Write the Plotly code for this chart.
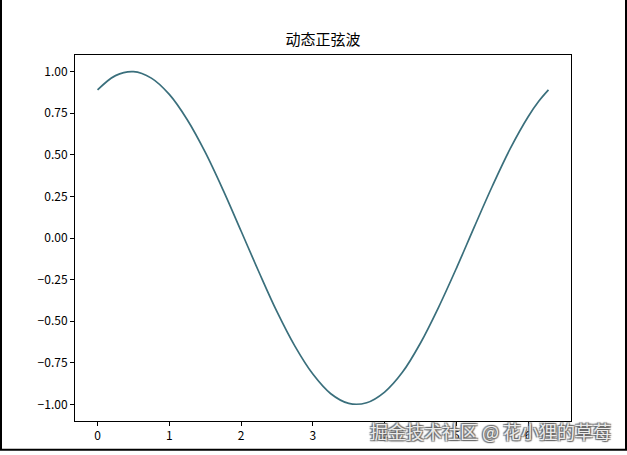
import plotly.graph_objects as go

# values
x_vals = [0.0, 0.25, 0.5, 0.75, 1.0, 1.25, 1.5, 1.75, 2.0, 2.25, 2.5, 2.75,
          3.0, 3.25, 3.5, 3.75, 4.0, 4.25, 4.5, 4.75, 5.0, 5.25, 5.5,
          5.75, 6.0, 6.15, 6.283]
y_vals = [0.89, 0.976, 1.00, 0.961, 0.863, 0.711, 0.516, 0.288, 0.042, -0.206,
          -0.443, -0.650, -0.818, -0.936, -0.994, -0.990, -0.926, -0.806,
          -0.631, -0.418, -0.182, 0.067, 0.311, 0.537, 0.729, 0.823, 0.89]
x_ticks = [0, 1, 2, 3, 4, 5, 6]
y_ticks = [1.00, 0.75, 0.50, 0.25, 0.00, -0.25, -0.50, -0.75, -1.00]
y_tick_labels = ["1.00", "0.75", "0.50", "0.25", "0.00", "−0.25", "−0.50", "−0.75", "−1.00"]
title_text = "动态正弦波"
watermark = "掘金技术社区 @ 花小狸的草莓"

W, H = 627, 455
ml, mr, mt, mb = 75, 56, 55, 31
pw, ph = W - ml - mr, H - mt - mb

fig = go.Figure()
fig.add_trace(go.Scatter(x=x_vals, y=y_vals, mode="lines",
                         line=dict(color="#3a6f7c", width=1.7, shape="spline", smoothing=1.0),
                         hoverinfo="skip", showlegend=False))

font_family = "Noto Sans CJK SC, DejaVu Sans, sans-serif"
axis_common = dict(showgrid=False, zeroline=False, showline=True, linecolor="black",
                   linewidth=1, mirror=True, ticks="outside", ticklen=4, tickwidth=1,
                   tickcolor="black", tickfont=dict(family=font_family, size=12, color="black"))

fig.update_layout(
    width=W, height=H,
    margin=dict(l=ml, r=mr, t=mt, b=mb),
    paper_bgcolor="white", plot_bgcolor="white",
    title=dict(text=title_text, x=(ml + pw / 2) / W, xanchor="center",
               y=1 - 40 / H, yanchor="middle",
               font=dict(family=font_family, size=15, color="black")),
    xaxis=dict(range=[-0.314, 6.597], tickvals=x_ticks, **axis_common),
    yaxis=dict(range=[-1.1, 1.1], tickvals=y_ticks, ticktext=y_tick_labels, **axis_common),
)

# outer frame of the image (left, bottom, right edges)
def px_to_paper_x(px):
    return (px - ml) / pw

def px_to_paper_y(py):
    return (H - mb - py) / ph

fx0, fx1 = px_to_paper_x(1), px_to_paper_x(626)
fy0, fy1 = px_to_paper_y(453), px_to_paper_y(-5)
fig.add_shape(type="path", xref="paper", yref="paper",
              path=f"M {fx0},{fy1} L {fx0},{fy0} L {fx1},{fy0} L {fx1},{fy1}",
              line=dict(color="black", width=2), layer="above")

fig.add_annotation(text=watermark, xref="paper", yref="paper",
                   x=px_to_paper_x(490), y=px_to_paper_y(434),
                   xanchor="center", yanchor="middle", showarrow=False,
                   font=dict(family=font_family, size=18, color="rgba(250,250,250,0.9)",
                             shadow="1px 1px 1px #666, -1px -1px 1px #666, 1px -1px 1px #666, -1px 1px 1px #666"))

fig.write_html("out.html", config={"displayModeBar": False},
               post_script="document.body.style.margin='0';")
